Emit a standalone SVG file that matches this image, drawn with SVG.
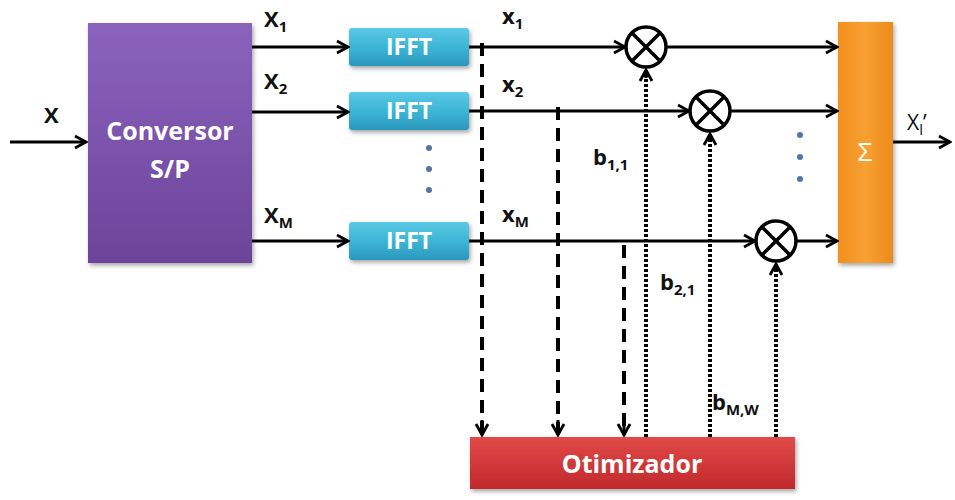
<svg xmlns="http://www.w3.org/2000/svg" width="955" height="500" viewBox="0 0 955 500">
<defs>
<linearGradient id="gPurple" x1="0" y1="0" x2="0" y2="1"><stop offset="0" stop-color="#8a63bd"/><stop offset="1" stop-color="#6c4399"/></linearGradient>
<linearGradient id="gCyan" x1="0" y1="0" x2="0" y2="1"><stop offset="0" stop-color="#5cc9e4"/><stop offset="0.5" stop-color="#3cb5d6"/><stop offset="1" stop-color="#2b98bd"/></linearGradient>
<linearGradient id="gOrange" x1="0" y1="0" x2="1" y2="0"><stop offset="0" stop-color="#f2901e"/><stop offset="0.5" stop-color="#f8a033"/><stop offset="1" stop-color="#ee8a1a"/></linearGradient>
<linearGradient id="gRed" x1="0" y1="0" x2="0" y2="1"><stop offset="0" stop-color="#e04a48"/><stop offset="1" stop-color="#c2292c"/></linearGradient>
<filter id="sh" x="-10%" y="-10%" width="130%" height="130%"><feDropShadow dx="1.5" dy="2.5" stdDeviation="2" flood-color="#000" flood-opacity="0.35"/></filter>
<marker id="arr" markerUnits="userSpaceOnUse" markerWidth="16" markerHeight="16" viewBox="0 0 16 16" refX="14" refY="8" orient="auto"><path d="M3,2 L14,8 L3,14" fill="none" stroke="#000" stroke-width="2.8" stroke-linejoin="miter"/></marker>
<style>
.ln{stroke:#000;stroke-width:3;fill:none}
.dash{stroke:#000;stroke-width:4;fill:none;stroke-dasharray:13 8}
.dot{stroke:#000;stroke-width:4;fill:none;stroke-dasharray:3 2}
.box{font-family:"Open Sans","Liberation Sans",sans-serif;font-weight:bold;fill:#fff;text-anchor:middle}
.sig{font-family:"Open Sans","Liberation Sans",sans-serif;font-weight:normal;fill:#fff;text-anchor:middle}
.lbl{font-family:"Open Sans","Liberation Sans",sans-serif;font-weight:bold;fill:#111;font-size:22px}
.sub{font-size:15px}
.mul circle{fill:#fff;stroke:#000;stroke-width:3.5}
.mul path{stroke:#000;stroke-width:3.5}
.dots circle{fill:#5574a6}
</style>
</defs>
<rect width="955" height="500" fill="#fff"/>

<g id="conversor">
<rect x="88" y="23" width="164" height="240" fill="url(#gPurple)" filter="url(#sh)"/>
<text class="box" x="170" y="140" font-size="25">Conversor</text>
<text class="box" x="170" y="178" font-size="25">S/P</text>
</g>

<g id="ifft1"><rect x="349" y="28" width="120" height="38" rx="3" fill="url(#gCyan)" filter="url(#sh)"/><text class="box" x="409" y="55" font-size="23">IFFT</text></g>
<g id="ifft2"><rect x="349" y="92" width="120" height="38" rx="3" fill="url(#gCyan)" filter="url(#sh)"/><text class="box" x="409" y="119" font-size="23">IFFT</text></g>
<g id="ifft3"><rect x="349" y="222" width="120" height="38" rx="3" fill="url(#gCyan)" filter="url(#sh)"/><text class="box" x="409" y="249" font-size="23">IFFT</text></g>

<g id="sum"><rect x="838" y="22" width="55" height="241" fill="url(#gOrange)" filter="url(#sh)"/><text class="sig" x="865" y="161" font-size="26">Σ</text></g>

<g id="otimizador"><rect x="470" y="437" width="325" height="52" fill="url(#gRed)" filter="url(#sh)"/><text class="box" x="632" y="473" font-size="25">Otimizador</text></g>

<g id="connectors">
<path class="ln" d="M10,142 L86,142" marker-end="url(#arr)"/>
<path class="ln" d="M252,47 L348,47" marker-end="url(#arr)"/>
<path class="ln" d="M252,112 L348,112" marker-end="url(#arr)"/>
<path class="ln" d="M252,241 L348,241" marker-end="url(#arr)"/>
<path class="ln" d="M469,47 L625,47" marker-end="url(#arr)"/>
<path class="ln" d="M469,111 L689,111" marker-end="url(#arr)"/>
<path class="ln" d="M469,241 L755,241" marker-end="url(#arr)"/>
<path class="ln" d="M667,47 L837,47" marker-end="url(#arr)"/>
<path class="ln" d="M731,111 L837,111" marker-end="url(#arr)"/>
<path class="ln" d="M797,241 L837,241" marker-end="url(#arr)"/>
<path class="ln" d="M893,142 L950,142" marker-end="url(#arr)"/>
<path class="dash" d="M482,43 L482,434"/>
<path class="ln" d="M482,420 L482,435" marker-end="url(#arr)"/>
<path class="dash" d="M558,107 L558,434"/>
<path class="ln" d="M558,420 L558,435" marker-end="url(#arr)"/>
<path class="dash" d="M624,245 L624,434"/>
<path class="ln" d="M624,420 L624,435" marker-end="url(#arr)"/>
<path class="dot" d="M646,437 L646,72"/>
<path class="ln" d="M646,78 L646,70" marker-end="url(#arr)"/>
<path class="dot" d="M710,437 L710,136"/>
<path class="ln" d="M710,142 L710,134" marker-end="url(#arr)"/>
<path class="dot" d="M776,437 L776,266"/>
<path class="ln" d="M776,272 L776,264" marker-end="url(#arr)"/>
</g>

<g id="mul1" class="mul"><circle cx="646" cy="47" r="20"/><path d="M632,33 L660,61 M660,33 L632,61"/></g>
<g id="mul2" class="mul"><circle cx="710" cy="111" r="20"/><path d="M696,97 L724,125 M724,97 L696,125"/></g>
<g id="mul3" class="mul"><circle cx="776" cy="241" r="20"/><path d="M762,227 L790,255 M790,227 L762,255"/></g>

<g id="dots" class="dots">
<circle cx="429" cy="148" r="3"/><circle cx="429" cy="169" r="3"/><circle cx="429" cy="190" r="3"/>
<circle cx="800" cy="135" r="3"/><circle cx="800" cy="157" r="3"/><circle cx="800" cy="179" r="3"/>
</g>

<g id="labels">
<text class="lbl" x="44" y="123">X</text>
<text class="lbl" x="264" y="27">X<tspan class="sub" dy="5">1</tspan></text>
<text class="lbl" x="264" y="89">X<tspan class="sub" dy="5">2</tspan></text>
<text class="lbl" x="264" y="223">X<tspan class="sub" dy="5">M</tspan></text>
<text class="lbl" x="502" y="24">x<tspan class="sub" dy="5">1</tspan></text>
<text class="lbl" x="502" y="92">x<tspan class="sub" dy="5">2</tspan></text>
<text class="lbl" x="502" y="222">x<tspan class="sub" dy="5">M</tspan></text>
<text class="lbl" x="593" y="165">b<tspan class="sub" dy="5">1,1</tspan></text>
<text class="lbl" x="660" y="290">b<tspan class="sub" dy="5">2,1</tspan></text>
<text class="lbl" x="712" y="410">b<tspan class="sub" dy="5">M,W</tspan></text>
<text x="907" y="130" font-family="Open Sans, Liberation Sans, sans-serif" font-size="21" fill="#111">X<tspan font-size="15" dy="5">l</tspan><tspan dy="-5">’</tspan></text>
</g>
</svg>
